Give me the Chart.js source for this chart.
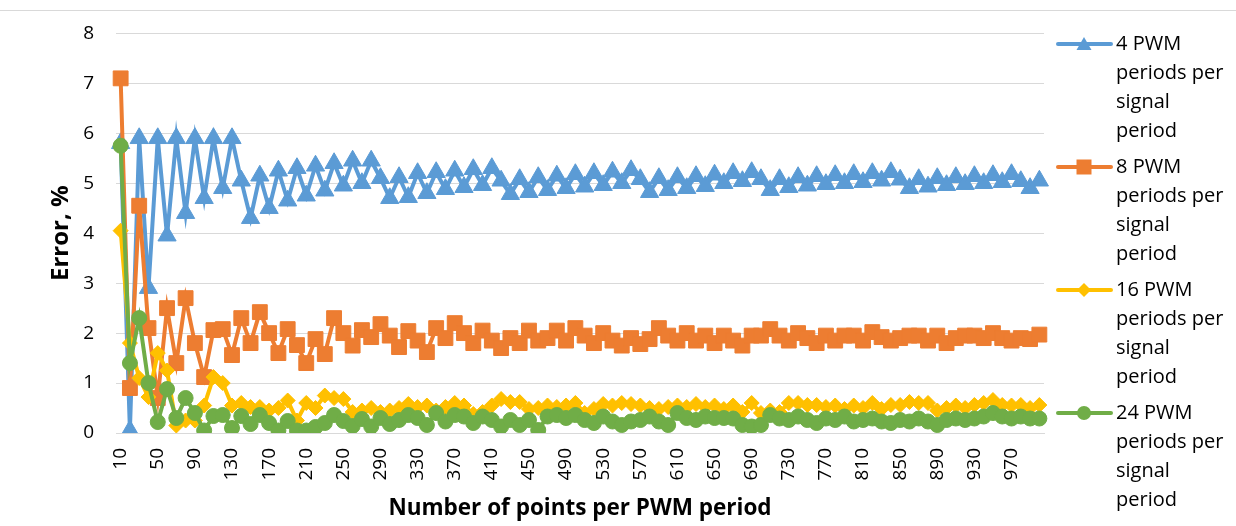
<!DOCTYPE html>
<html>
<head>
<meta charset="utf-8">
<title>Error vs number of points per PWM period</title>
<script src="https://cdn.jsdelivr.net/npm/chart.js@4"></script>
<style>
	html, body { margin: 0; padding: 0; background: #ffffff; }
	#wrap { width: 1236px; height: 526px; }
</style>
</head>
<body>
<div id="wrap"><canvas id="errorChart" width="1236" height="526"></canvas></div>
<script>
// number of points per PWM period (category axis)
var pointsPerPeriod = [
	10, 20, 30, 40, 50, 60, 70, 80, 90, 100,
	110, 120, 130, 140, 150, 160, 170, 180, 190, 200,
	210, 220, 230, 240, 250, 260, 270, 280, 290, 300,
	310, 320, 330, 340, 350, 360, 370, 380, 390, 400,
	410, 420, 430, 440, 450, 460, 470, 480, 490, 500,
	510, 520, 530, 540, 550, 560, 570, 580, 590, 600,
	610, 620, 630, 640, 650, 660, 670, 680, 690, 700,
	710, 720, 730, 740, 750, 760, 770, 780, 790, 800,
	810, 820, 830, 840, 850, 860, 870, 880, 890, 900,
	910, 920, 930, 940, 950, 960, 970, 980, 990, 1000
];

// error, % for 4 PWM periods per signal period
var error4 = [
	5.8, 0.05, 5.9, 2.9, 5.9, 3.95, 5.9, 4.4, 5.9, 4.7,
	5.9, 4.9, 5.9, 5.05, 4.3, 5.15, 4.5, 5.25, 4.65, 5.3,
	4.75, 5.35, 4.85, 5.4, 4.95, 5.45, 5.0, 5.45, 5.1, 4.7,
	5.12, 4.72, 5.2, 4.8, 5.22, 4.88, 5.25, 4.92, 5.28, 4.96,
	5.3, 5.05, 4.78, 5.08, 4.82, 5.12, 4.86, 5.15, 4.9, 5.18,
	4.93, 5.2, 4.96, 5.23, 5.0, 5.26, 5.08, 4.82, 5.1, 4.86,
	5.12, 4.9, 5.14, 4.94, 5.17, 5.0, 5.2, 5.04, 5.22, 5.08,
	4.86, 5.08, 4.92, 5.12, 4.95, 5.14, 4.98, 5.16, 5.0, 5.18,
	5.02, 5.2, 5.05, 5.22, 5.07, 4.9, 5.08, 4.93, 5.1, 4.96,
	5.12, 4.98, 5.14, 5.0, 5.16, 5.02, 5.18, 5.04, 4.9, 5.05
];

// error, % for 8 PWM periods per signal period
var error8 = [
	7.1, 0.9, 4.55, 2.1, 0.7, 2.5, 1.4, 2.7, 1.8, 1.12,
	2.06, 2.08, 1.56, 2.3, 1.8, 2.42, 2.0, 1.6, 2.08, 1.76,
	1.4, 1.88, 1.58, 2.3, 2.0, 1.75, 2.06, 1.92, 2.18, 1.95,
	1.72, 2.04, 1.85, 1.62, 2.1, 1.9, 2.2, 2.0, 1.8, 2.05,
	1.85, 1.7, 1.9, 1.8, 2.05, 1.85, 1.9, 2.05, 1.85, 2.1,
	1.95, 1.8, 2.0, 1.85, 1.75, 1.9, 1.78, 1.88, 2.1, 1.95,
	1.85, 2.0, 1.85, 1.95, 1.8, 1.95, 1.85, 1.75, 1.95, 1.95,
	2.08, 1.95, 1.85, 2.0, 1.9, 1.8, 1.95, 1.85, 1.95, 1.95,
	1.85, 2.02, 1.92, 1.85, 1.9, 1.95, 1.95, 1.85, 1.95, 1.8,
	1.9, 1.95, 1.95, 1.9, 2.0, 1.9, 1.85, 1.9, 1.88, 1.97
];

// error, % for 16 PWM periods per signal period
var error16 = [
	4.05, 1.8, 1.1, 0.72, 1.6, 1.25, 0.15, 0.25, 0.25, 0.55,
	1.12, 1.0, 0.55, 0.6, 0.52, 0.52, 0.45, 0.5, 0.65, 0.25,
	0.6, 0.5, 0.75, 0.7, 0.68, 0.42, 0.45, 0.5, 0.42, 0.45,
	0.5, 0.58, 0.52, 0.55, 0.45, 0.52, 0.6, 0.55, 0.38, 0.42,
	0.55, 0.68, 0.62, 0.62, 0.48, 0.5, 0.55, 0.52, 0.55, 0.6,
	0.4, 0.48, 0.58, 0.55, 0.6, 0.58, 0.55, 0.5, 0.48, 0.52,
	0.55, 0.52, 0.58, 0.52, 0.55, 0.48, 0.55, 0.42, 0.6, 0.4,
	0.45, 0.42, 0.6, 0.6, 0.56, 0.56, 0.52, 0.55, 0.48, 0.55,
	0.5, 0.6, 0.48, 0.56, 0.56, 0.62, 0.6, 0.6, 0.45, 0.5,
	0.55, 0.5, 0.56, 0.6, 0.66, 0.56, 0.55, 0.56, 0.5, 0.56
];

// error, % for 24 PWM periods per signal period
var error24 = [
	5.75, 1.4, 2.3, 1.0, 0.22, 0.88, 0.3, 0.7, 0.4, 0.05,
	0.34, 0.36, 0.1, 0.34, 0.18, 0.36, 0.2, 0.05, 0.24, 0.05,
	0.05, 0.12, 0.2, 0.36, 0.24, 0.14, 0.28, 0.13, 0.3, 0.18,
	0.26, 0.36, 0.3, 0.16, 0.4, 0.23, 0.36, 0.33, 0.2, 0.33,
	0.26, 0.13, 0.26, 0.16, 0.26, 0.06, 0.33, 0.36, 0.3, 0.36,
	0.26, 0.2, 0.33, 0.23, 0.16, 0.23, 0.26, 0.33, 0.23, 0.16,
	0.4, 0.3, 0.26, 0.33, 0.3, 0.3, 0.29, 0.16, 0.13, 0.16,
	0.36, 0.29, 0.26, 0.33, 0.26, 0.2, 0.29, 0.26, 0.33, 0.23,
	0.26, 0.29, 0.23, 0.2, 0.26, 0.23, 0.29, 0.23, 0.16, 0.26,
	0.29, 0.26, 0.29, 0.33, 0.4, 0.33, 0.29, 0.33, 0.29, 0.29
];

// legend text, already broken into lines like in the original
var seriesNames = [
	['4 PWM', 'periods per', 'signal', 'period'],
	['8 PWM', 'periods per', 'signal', 'period'],
	['16 PWM', 'periods per', 'signal', 'period'],
	['24 PWM', 'periods per', 'signal', 'period']
];

var yTicks = [0, 1, 2, 3, 4, 5, 6, 7, 8];

////////////////////////////////////////////////////////////////////////////////

var chartColors = {
	blue: '#5B9BD5',
	orange: '#ED7D31',
	yellow: '#FFC000',
	green: '#70AD47',
	grid: '#D9D9D9'
};

var fontFamily = '"Open Sans", "Noto Sans", sans-serif';

Chart.defaults.font.family = fontFamily;
Chart.defaults.color = '#000000';

function makeSeries(names, data, color, style, radius, order) {
	return {
		label: names.join(' '),
		legendLines: names,
		data: data,
		borderColor: color,
		backgroundColor: color,
		borderWidth: 4,
		pointStyle: style,
		pointRadius: radius,
		pointHoverRadius: radius,
		pointBorderWidth: 1,
		pointBackgroundColor: color,
		pointBorderColor: color,
		tension: 0,
		order: order
	};
}

// draws one legend marker (smaller copy of the series marker)
function drawMarker(ctx, style, x, y) {
	ctx.beginPath();
	if (style === 'triangle') {
		ctx.moveTo(x, y - 7);
		ctx.lineTo(x + 7.5, y + 6);
		ctx.lineTo(x - 7.5, y + 6);
		ctx.closePath();
	} else if (style === 'rect') {
		ctx.rect(x - 7.5, y - 7.5, 15, 15);
	} else if (style === 'rectRot') {
		ctx.moveTo(x, y - 7);
		ctx.lineTo(x + 7, y);
		ctx.lineTo(x, y + 7);
		ctx.lineTo(x - 7, y);
		ctx.closePath();
	} else {
		ctx.arc(x, y, 7, 0, Math.PI * 2);
	}
	ctx.fill();
}

// white background and the thin frame line at the top
var chartFrame = {
	id: 'chartFrame',
	beforeDraw: function (chart) {
		var ctx = chart.ctx;
		ctx.save();
		ctx.fillStyle = '#ffffff';
		ctx.fillRect(0, 0, chart.width, chart.height);
		ctx.strokeStyle = chartColors.grid;
		ctx.lineWidth = 1;
		ctx.beginPath();
		ctx.moveTo(0, 10.5);
		ctx.lineTo(chart.width, 10.5);
		ctx.stroke();
		ctx.restore();
	}
};

// legend on the right with wrapped text (the built-in one can't wrap)
var sideLegend = {
	id: 'sideLegend',
	afterDraw: function (chart) {
		var ctx = chart.ctx;
		ctx.save();
		chart.data.datasets.forEach(function (ds, i) {
			var y = 44 + i * 123;
			ctx.strokeStyle = ds.borderColor;
			ctx.fillStyle = ds.borderColor;
			ctx.lineWidth = 4;
			ctx.lineCap = 'round';
			ctx.beginPath();
			ctx.moveTo(1058, y);
			ctx.lineTo(1111, y);
			ctx.stroke();
			drawMarker(ctx, ds.pointStyle, 1084, y);

			ctx.fillStyle = '#000000';
			ctx.font = '20px ' + fontFamily;
			ctx.textAlign = 'left';
			ctx.textBaseline = 'middle';
			ds.legendLines.forEach(function (line, k) {
				ctx.fillText(line, 1116, y + k * 29);
			});
		});
		ctx.restore();
	}
};

var config = {
	type: 'line',
	data: {
		labels: pointsPerPeriod,
		datasets: [
			makeSeries(seriesNames[0], error4, chartColors.blue, 'triangle', 10.5, 4),
			makeSeries(seriesNames[1], error8, chartColors.orange, 'rect', 10.5, 3),
			makeSeries(seriesNames[2], error16, chartColors.yellow, 'rectRot', 7.5, 2),
			makeSeries(seriesNames[3], error24, chartColors.green, 'circle', 7.5, 1)
		]
	},
	options: {
		responsive: false,
		animation: false,
		layout: {
			padding: { top: 33, right: 192, bottom: 0, left: 0 }
		},
		plugins: {
			legend: { display: false },
			title: { display: false },
			tooltip: { enabled: false }
		},
		scales: {
			x: {
				offset: true,
				grid: { display: false, drawTicks: false },
				border: { display: true, color: chartColors.grid, width: 1 },
				ticks: {
					autoSkip: false,
					minRotation: 90,
					maxRotation: 90,
					padding: 15,
					font: { size: 19 },
					callback: function (value, index) {
						return index % 4 === 0 ? this.getLabelForValue(value) : '';
					}
				},
				title: {
					display: true,
					text: 'Number of points per PWM period',
					font: { size: 22.5, weight: 'bold' },
					padding: { top: 0, bottom: 4 }
				},
				afterFit: function (scale) {
					scale.height = 93;
				}
			},
			y: {
				min: 0,
				max: 8,
				grid: { color: chartColors.grid, lineWidth: 1, drawTicks: false },
				border: { display: false },
				afterBuildTicks: function (scale) {
					scale.ticks = yTicks.map(function (v) { return { value: v }; });
				},
				ticks: {
					padding: 22,
					font: { size: 19 }
				},
				title: {
					display: true,
					text: 'Error, %',
					font: { size: 24, weight: 'bold' },
					padding: { top: 47, bottom: 0 }
				},
				afterFit: function (scale) {
					scale.width = 116;
				}
			}
		}
	},
	plugins: [chartFrame, sideLegend]
};

var errorChart = new Chart(document.getElementById('errorChart'), config);
</script>
</body>
</html>
